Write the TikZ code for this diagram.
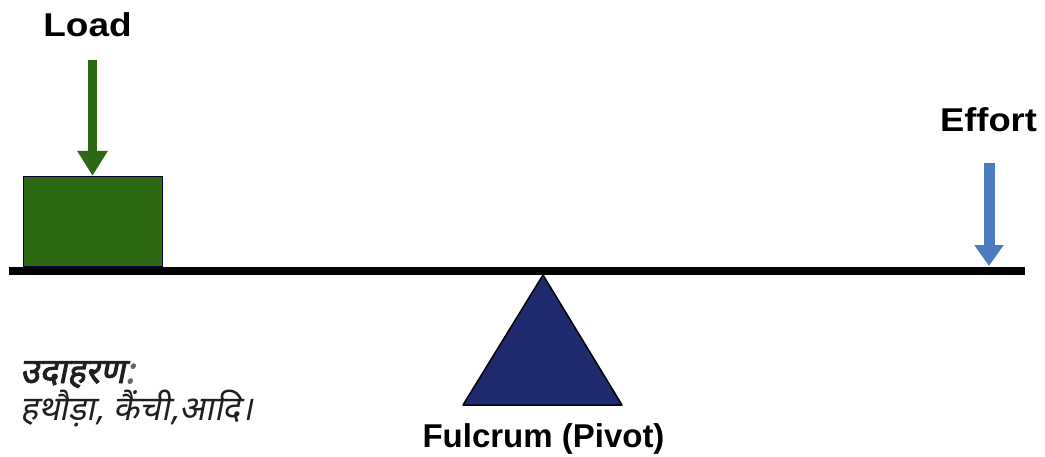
\documentclass[tikz,border=0pt]{standalone}
\usepackage{fontspec}
\setmainfont{Liberation Sans}
\newfontfamily\hindi[Script=Devanagari,FakeSlant=0.2]{Noto Sans}
\newfontfamily\hindibold[Script=Devanagari,FakeSlant=0.2,FakeBold=2.5]{Noto Sans}
\usetikzlibrary{arrows.meta}
\definecolor{loadgreen}{HTML}{2B6A12}
\definecolor{effortblue}{HTML}{4A7CC0}
\definecolor{pivotnavy}{HTML}{1F2B6E}
\tikzset{
  lbl/.style={font=\fontsize{33}{40}\bfseries\selectfont, inner sep=0, anchor=base},
  hinditxt/.style={inner sep=0, anchor=base west, text=black!88},
}
\begin{document}
\begin{tikzpicture}[x=1pt,y=-1pt]
\useasboundingbox (0,0) rectangle (1045,456);
% beam
\coordinate (beamL) at (9,271);
\coordinate (beamR) at (1025,271);
\draw[line width=8] (beamL) -- (beamR);
% load box
\node[draw=black!80!blue, line width=1.2, fill=loadgreen, minimum width=139, minimum height=90, inner sep=0, anchor=south west] (box) at (23,267) {};
% fulcrum
\coordinate (apex) at (543,275);
\coordinate (bl) at (463,405);
\coordinate (br) at (622,405);
\draw[fill=pivotnavy, line width=1.5, line join=round] (apex) -- (bl) -- (br) -- cycle;
% labels
\node[lbl, xscale=1.12] (load) at (87.5,36) {Load};
\node[lbl, xscale=1.1] (effort) at (988.5,131) {Effort};
\node[lbl] (fulcrum) at (543.5,447) {Fulcrum (Pivot)};
% load arrow
\coordinate (loadtop) at (92.5,60);
\draw[loadgreen, line width=9, -{Triangle[length=25pt, width=29pt]}] (loadtop) -- (box.north -| loadtop);
% effort arrow
\coordinate (efftop) at (989,163);
\coordinate (effend) at (989,266);
\draw[effortblue, line width=11, -{Triangle[length=21pt, width=28pt]}] (efftop) -- (effend);
% hindi text
\node[hinditxt, font=\hindibold\fontsize{35}{40}\selectfont] (ex) at (20,383) {उदाहरण{\color{black!60}:}};
\node[hinditxt, font=\hindi\fontsize{34}{40}\selectfont] (exlist) at (20,420) {हथौड़ा, कैंची,आदि।};
\end{tikzpicture}
\end{document}
